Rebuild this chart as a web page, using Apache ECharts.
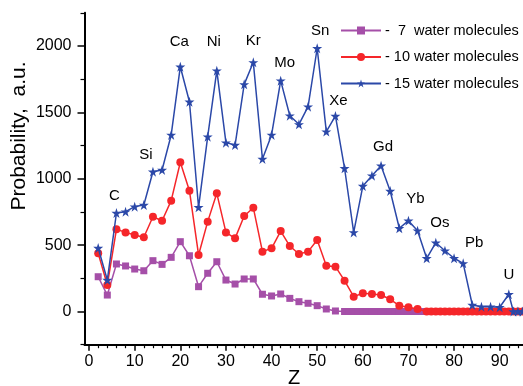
<!DOCTYPE html>
<html>
<head>
<meta charset="utf-8">
<script src="https://cdn.jsdelivr.net/npm/echarts@6/dist/echarts.min.js"></script>
<style>
  html, body { margin: 0; padding: 0; background: #fff; }
  #chart { width: 523px; height: 386px; }
</style>
</head>
<body>
<div id="chart"></div>
<script>
// Cluster size series: probability of capturing an atom with charge Z
const z7 = [2, 4, 6, 8, 10, 12, 14, 16, 18, 20, 22, 24, 26, 28, 30, 32, 34, 36, 38, 40,
  42, 44, 46, 48, 50, 52, 54,
  56, 57, 58, 59, 60, 61, 62, 63, 64, 65, 66, 67, 68, 69, 70, 71, 72, 73];
const p7 = [262, 124, 358, 343, 320, 307, 383, 355, 408, 526, 420, 187, 288, 375, 237, 207, 245, 245, 130, 117,
  132, 99, 74, 62, 44, 19, 4,
  0, 0, 0, 0, 0, 0, 0, 0, 0, 0, 0, 0, 0, 0, 0, 0, 0, 0];

const z10 = [2, 4, 6, 8, 10, 12, 14, 16, 18, 20, 22, 24, 26, 28, 30, 32, 34, 36, 38, 40,
  42, 44, 46, 48, 50, 52, 54, 56, 58, 60, 62, 64, 66, 68, 70, 72,
  74, 75, 76, 77, 78, 79, 80, 81, 82, 83, 84, 85, 86, 87, 88, 89, 90, 91, 92, 93, 94, 95];
const p10 = [438, 200, 619, 596, 576, 559, 714, 684, 835, 1124, 910, 426, 677, 890, 596, 551, 719, 782, 451, 476,
  606, 493, 433, 451, 539, 345, 338, 232, 112, 137, 132, 124, 92, 44, 32, 19,
  0, 0, 0, 0, 0, 0, 0, 0, 0, 0, 0, 0, 0, 0, 0, 0, 0, 0, 0, 0, 0, 0];

const z15 = [2, 4, 6, 8, 10, 12, 14, 16, 18, 20, 22, 24, 26, 28, 30, 32, 34, 36, 38, 40,
  42, 44, 46, 48, 50, 52, 54, 56, 58, 60, 62, 64, 66, 68, 70, 72, 74, 76, 78, 80,
  82, 84, 86, 88, 90, 92, 93, 94, 95];
const p15 = [478, 237, 742, 752, 790, 802, 1053, 1066, 1330, 1844, 1580, 785, 1317, 1814, 1272, 1254, 1711, 1877, 1149, 1330,
  1739, 1475, 1410, 1543, 1983, 1355, 1473, 1079, 596, 945, 1023, 1098, 908, 627, 684, 609, 401, 518, 458, 401,
  363, 49, 36, 36, 32, 130, 0, 0, 0];

const seriesNames = ['-  7  water molecules', '- 10 water molecules', '- 15 water molecules'];

// Element names marked above the 15-molecule curve
const elementNames = ['C', 'Si', 'Ca', 'Ni', 'Kr', 'Mo', 'Sn', 'Xe', 'Gd', 'Yb', 'Os', 'Pb', 'U'];
const elementZ = [6, 14, 20, 28, 36, 42, 50, 54, 64, 70, 76, 82, 92];

const xMajorTicks = [0, 10, 20, 30, 40, 50, 60, 70, 80, 90];
const xMinorTicks = [2, 4, 6, 8, 12, 14, 16, 18, 22, 24, 26, 28, 32, 34, 36, 38, 42, 44, 46, 48,
  52, 54, 56, 58, 62, 64, 66, 68, 72, 74, 76, 78, 82, 84, 86, 88, 92, 94];
const yMajorTicks = [0, 500, 1000, 1500, 2000];
const yMinorTicks = [-250, 250, 750, 1250, 1750, 2250];

// label placement around each marked point (pixels from the marker centre)
const labelShift = {
  C: [-2, -17], Si: [-7, -17], Ca: [-1, -25], Ni: [-3, -29], Kr: [0, -21], Mo: [4, -18],
  Sn: [3, -17], Xe: [3, -15], Gd: [2, -19], Yb: [7, -22], Os: [4, -20], Pb: [11, -20], U: [0, -19]
};

const FONT = '"Liberation Sans", Arial, Helvetica, sans-serif';
const PURPLE = '#a54fa8';
const RED = '#f5262a';
const BLUE = '#2b48a8';
const STAR = 'path://M50,0 L61.2,34.5 L97.6,34.5 L68.2,55.9 L79.4,90.5 L50,69.1 L20.6,90.5 L31.8,55.9 L2.4,34.5 L38.8,34.5 Z';

function pairs(xs, ys) {
  return xs.map((x, i) => [x, ys[i]]);
}

const blueData = z15.map((z, i) => {
  const k = elementZ.indexOf(z);
  if (k < 0) return [z, p15[i]];
  const nm = elementNames[k];
  return {
    value: [z, p15[i]],
    label: {
      show: true,
      position: 'inside',
      offset: labelShift[nm],
      formatter: nm,
      color: '#000',
      fontSize: 15,
      fontFamily: FONT
    }
  };
});

const chart = echarts.init(document.getElementById('chart'), null, { renderer: 'canvas' });

const plainNumber = (v) => String(v);

chart.setOption({
  animation: false,
  backgroundColor: '#fff',
  textStyle: { fontFamily: FONT },
  grid: { left: 84.5, right: 0.5, top: 12.8, bottom: 41.3, containLabel: false },
  xAxis: [
    {
      type: 'value', min: -1, max: 95, position: 'bottom',
      splitLine: { show: false },
      axisLine: { show: true, onZero: false, lineStyle: { color: '#000', width: 2 } },
      axisTick: { show: true, customValues: xMajorTicks, length: 6, inside: false, lineStyle: { color: '#000', width: 1.5 } },
      axisLabel: { show: true, customValues: xMajorTicks, margin: 9, fontSize: 16, color: '#000', fontFamily: FONT, formatter: plainNumber }
    },
    {
      type: 'value', min: -1, max: 95, position: 'bottom',
      splitLine: { show: false },
      axisLine: { show: false, onZero: false },
      axisTick: { show: true, customValues: xMinorTicks, length: 3.5, lineStyle: { color: '#000', width: 1.2 } },
      axisLabel: { show: false }
    }
  ],
  yAxis: [
    {
      type: 'value', min: -250, max: 2250, position: 'left',
      splitLine: { show: false },
      axisLine: { show: true, onZero: false, lineStyle: { color: '#000', width: 2 } },
      axisTick: { show: true, customValues: yMajorTicks, length: 7, lineStyle: { color: '#000', width: 1.5 } },
      axisLabel: { show: true, customValues: yMajorTicks, margin: 13, fontSize: 16, color: '#000', fontFamily: FONT, formatter: plainNumber }
    },
    {
      type: 'value', min: -250, max: 2250, position: 'left',
      splitLine: { show: false },
      axisLine: { show: false, onZero: false },
      axisTick: { show: true, customValues: yMinorTicks, length: 4, lineStyle: { color: '#000', width: 1.2 } },
      axisLabel: { show: false }
    }
  ],
  legend: {
    orient: 'vertical',
    left: 340,
    top: 23,
    padding: 0,
    itemWidth: 40,
    itemHeight: 10,
    itemGap: 11.5,
    textStyle: { fontSize: 14.5, color: '#000', fontFamily: FONT, padding: [0, 0, 0, -1] },
    data: seriesNames
  },
  graphic: [
    {
      type: 'text',
      x: 294, y: 378,
      style: { text: 'Z', fontSize: 20, fontFamily: FONT, fill: '#000', align: 'center', verticalAlign: 'middle' }
    },
    {
      type: 'text',
      x: 19.5, y: 136,
      rotation: Math.PI / 2,
      style: { text: 'Probability,  a.u.', fontSize: 21, fontFamily: FONT, fill: '#000', align: 'center', verticalAlign: 'middle' }
    }
  ],
  series: [
    {
      name: seriesNames[0],
      type: 'line',
      xAxisIndex: 0, yAxisIndex: 0,
      data: pairs(z7, p7),
      symbol: 'rect',
      symbolSize: 7,
      lineStyle: { color: PURPLE, width: 1.5 },
      itemStyle: { color: PURPLE },
      z: 2
    },
    {
      name: seriesNames[1],
      type: 'line',
      xAxisIndex: 0, yAxisIndex: 0,
      data: pairs(z10, p10),
      symbol: 'circle',
      symbolSize: 8,
      lineStyle: { color: RED, width: 1.5 },
      itemStyle: { color: RED },
      z: 3
    },
    {
      name: seriesNames[2],
      type: 'line',
      xAxisIndex: 0, yAxisIndex: 0,
      data: blueData,
      symbol: STAR,
      symbolSize: 10,
      lineStyle: { color: BLUE, width: 1.5 },
      itemStyle: { color: BLUE },
      z: 4
    }
  ]
});
</script>
</body>
</html>
